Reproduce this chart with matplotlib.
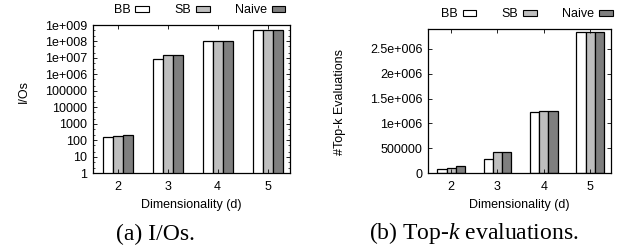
import numpy as np
import matplotlib
matplotlib.use("Agg")
import matplotlib.pyplot as plt
from matplotlib.ticker import LogLocator, NullFormatter, FixedLocator

plt.rcParams['font.family'] = 'Liberation Sans'
plt.rcParams['mathtext.fontset'] = 'custom'
plt.rcParams['mathtext.rm'] = 'Liberation Serif'
plt.rcParams['mathtext.it'] = 'Liberation Serif:italic'

# data
dims = ['2', '3', '4', '5']
series = ['BB', 'SB', 'Naive']
ios_bb = [160, 9.0e6, 1.0e8, 4.8e8]
ios_sb = [190, 1.4e7, 1.0e8, 4.8e8]
ios_naive = [200, 1.4e7, 1.0e8, 4.8e8]
topk_bb = [85000, 280000, 1.22e6, 2.83e6]
topk_sb = [110000, 420000, 1.25e6, 2.83e6]
topk_naive = [145000, 420000, 1.25e6, 2.83e6]

colors = ['#ffffff', '#bebebe', '#7f7f7f']
fs = 9

fig = plt.figure(figsize=(6.24, 2.5), dpi=100)
ax1 = fig.add_axes([93 / 624, 77 / 250, 197 / 624, 148 / 250])
ax2 = fig.add_axes([428 / 624, 77 / 250, 183 / 624, 144 / 250])

x = np.arange(len(dims))
w = 0.2


def draw(ax, data):
    for i, vals in enumerate(data):
        ax.bar(x + (i - 1) * w, vals, w, color=colors[i], edgecolor='black',
               linewidth=0.9, label=series[i])
    ax.set_xlim(-0.5, 3.45)
    ax.set_xticks(x)
    ax.set_xticklabels(dims)
    ax.tick_params(direction='in', top=True, right=True, labelsize=fs,
                   length=3, width=0.6, pad=4)
    ax.tick_params(axis='x', pad=6)
    for s in ax.spines.values():
        s.set_linewidth(0.9)
    leg = ax.legend(ncol=3, markerfirst=False, frameon=False, fontsize=fs,
                    loc='lower center', bbox_to_anchor=(0.54, 1.0),
                    handlelength=1.1, handleheight=0.4, handletextpad=0.4,
                    columnspacing=2.0, borderaxespad=0.3)
    for p in leg.get_patches():
        p.set_linewidth(0.8)
    ax.set_xlabel('Dimensionality (d)', fontsize=fs, labelpad=4)


draw(ax1, [ios_bb, ios_sb, ios_naive])
ax1.set_yscale('log')
ax1.set_ylim(1, 1e9)
ax1.yaxis.set_major_locator(FixedLocator([10 ** k for k in range(10)]))
ax1.yaxis.set_minor_locator(LogLocator(base=10, subs=(2, 5), numticks=20))
ax1.yaxis.set_minor_formatter(NullFormatter())
ax1.tick_params(which='minor', direction='in', right=True, length=1.5, width=0.5)
ax1.set_yticklabels(['1', '10', '100', '1000', '10000', '100000',
                     '1e+006', '1e+007', '1e+008', '1e+009'])
ax1.set_ylabel('I/Os', fontsize=fs)
ax1.yaxis.set_label_coords(-0.32, 0.55)

draw(ax2, [topk_bb, topk_sb, topk_naive])
ax2.set_ylim(0, 2.9e6)
ax2.set_yticks([0, 5e5, 1e6, 1.5e6, 2e6, 2.5e6])
ax2.set_yticklabels(['0', '500000', '1e+006', '1.5e+006', '2e+006', '2.5e+006'])
ax2.set_ylabel('#Top-k Evaluations', fontsize=fs)
ax2.yaxis.set_label_coords(-0.45, 0.49)

fig.text(155 / 624, 1 - 234 / 250, '(a) I/Os.', ha='center', va='center',
         fontsize=17, family='Liberation Serif')
fig.text(474 / 624, 1 - 233 / 250, '(b) Top-$k$ evaluations.', ha='center',
         va='center', fontsize=17, family='Liberation Serif')

fig.savefig('out.png', dpi=100)
